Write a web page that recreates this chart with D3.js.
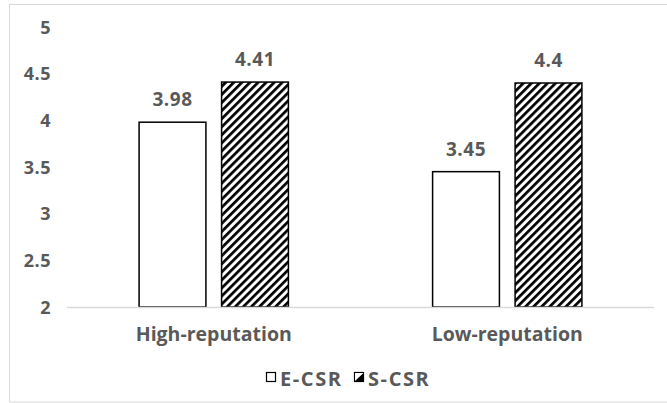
<!DOCTYPE html>
<html><head><meta charset="utf-8">
<script src="https://cdn.jsdelivr.net/npm/d3@7"></script>
<style>body{margin:0;background:#fff}svg{display:block}text{font-family:"Open Sans","Noto Sans",sans-serif;font-weight:700;fill:#595959}</style>
</head><body><svg id="c" width="667" height="403"></svg>
<script>
const categories = ["High-reputation", "Low-reputation"];
const seriesNames = ["E-CSR", "S-CSR"];
const eCSR = [3.98, 3.45];
const sCSR = [4.41, 4.40];
const valueLabels = [["3.98", "3.45"], ["4.41", "4.4"]];
const yTicks = [2, 2.5, 3, 3.5, 4, 4.5, 5];

const svg = d3.select("#c");
const defs = svg.append("defs");
const pat = defs.append("pattern").attr("id","hatch").attr("patternUnits","userSpaceOnUse")
  .attr("width",5.7).attr("height",6).attr("patternTransform","rotate(45)");
pat.append("rect").attr("width",5.7).attr("height",6).attr("fill","#fff");
pat.append("rect").attr("x",0).attr("width",2.7).attr("height",6).attr("fill","#000");

// chart border
svg.append("rect").attr("x",9.5).attr("y",4.5).attr("width",700).attr("height",397.5)
  .attr("fill","none").attr("stroke","#d9d9d9").attr("stroke-width",1);

const y = d3.scaleLinear().domain([2,5]).range([307,27]);
const x0 = d3.scaleBand().domain(categories).range([67,654]).paddingInner(0).paddingOuter(0);
const x1 = d3.scaleBand().domain(seriesNames).range([0,x0.bandwidth()]).paddingInner(0.19).paddingOuter(0.874);

// y tick labels
const yAxis = d3.axisLeft(y).tickValues(yTicks).tickSize(0).tickPadding(0).tickFormat(d3.format("~g"));
const ya = svg.append("g").attr("transform","translate(51,0)").call(yAxis);
ya.select(".domain").remove();
ya.selectAll("text").style("font-size","18px").style("letter-spacing","0.5px").attr("fill","#595959").attr("dy","0.35em");

const data = [eCSR, sCSR];
const g = svg.append("g");
categories.forEach((c,i)=>{
  seriesNames.forEach((s,j)=>{
    const v = data[j][i];
    g.append("rect").attr("x",x0(c)+x1(s)).attr("y",y(v)).attr("width",x1.bandwidth()).attr("height",y(2)-y(v))
      .attr("fill", j===0 ? "#fff" : "url(#hatch)").attr("stroke","#000").attr("stroke-width",1.5);
    g.append("text").attr("x",x0(c)+x1(s)+x1.bandwidth()/2).attr("y",y(v)-16)
      .attr("text-anchor","middle").style("font-size","19px").style("letter-spacing","0.5px").text(valueLabels[j][i]);
  });
});

// baseline
svg.append("line").attr("x1",67).attr("x2",654).attr("y1",y(2)+0.5).attr("y2",y(2)+0.5)
  .attr("stroke","#d9d9d9").attr("stroke-width",1.5);

// category axis
const xAxis = d3.axisBottom(x0).tickSize(0).tickPadding(0);
const xa = svg.append("g").attr("transform",`translate(0,${y(2)})`).call(xAxis);
xa.select(".domain").remove();
xa.selectAll("text").style("font-size","19.5px").attr("fill","#595959").attr("dy","0").attr("y",34);

// legend
const leg = svg.append("g");
const legX = [266, 354];
seriesNames.forEach((s,j)=>{
  leg.append("rect").attr("x",legX[j]+0.5).attr("y",372.5).attr("width",9).attr("height",9)
    .attr("fill", j===0 ? "#fff" : "#000").attr("stroke","#000").attr("stroke-width",1.2);
  if(j===1){
    leg.append("path").attr("d",`M${legX[j]+1},${381} L${legX[j]+9.5},${373} L${legX[j]+1},${373} Z`).attr("fill","#fff");
  }
  leg.append("text").attr("x",legX[j]+14).attr("y",386).style("font-size","20px").style("letter-spacing","1.6px").text(s);
});
</script></body></html>
